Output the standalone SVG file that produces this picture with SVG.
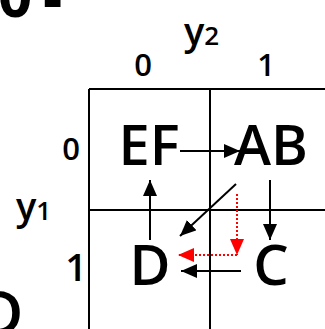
<svg xmlns="http://www.w3.org/2000/svg" width="325" height="329" viewBox="0 0 325 329">
<style>
.lbl{font-family:"Open Sans","DejaVu Sans",sans-serif;fill:#000}
.big{font-size:56px;text-anchor:middle;font-weight:600}
.mid{font-size:31px;text-anchor:middle;font-weight:600}
.grid{stroke:#000;stroke-width:2;fill:none}
.edge{stroke:#000;stroke-width:2;fill:none}
.red{stroke:#f00;stroke-width:2;stroke-dasharray:2 2;fill:none}
</style>
<defs>
<marker id="ah" markerUnits="userSpaceOnUse" markerWidth="16" markerHeight="14" refX="16" refY="7" orient="auto"><path d="M0,0 L16,7 L0,14 z" fill="#000"/></marker>
<marker id="ahr" markerUnits="userSpaceOnUse" markerWidth="16" markerHeight="14" refX="16" refY="7" orient="auto"><path d="M0,0 L16,7 L0,14 z" fill="#f00"/></marker>
</defs>
<rect width="325" height="329" fill="#fff"/>
<text class="lbl" x="-2" y="17" font-size="60" font-weight="bold">0</text>
<text class="lbl" x="43" y="20" font-size="60" font-weight="bold">-</text>
<text class="lbl" x="-22" y="335" font-size="62" font-weight="600">D</text>
<g id="grid">
<path class="grid" d="M89,89 V329 M210,89 V329 M89,89 H325 M89,210 H325"/>
</g>
<g id="axis-labels">
<text class="lbl" x="184" y="45" font-size="38" font-weight="600">y<tspan font-size="26">2</tspan></text>
<text class="lbl mid" x="143" y="76">0</text>
<text class="lbl mid" x="266" y="76">1</text>
<text class="lbl mid" x="71" y="160">0</text>
<text class="lbl" x="16" y="220" font-size="38" font-weight="600">y<tspan font-size="26">1</tspan></text>
<text class="lbl" x="76" y="281" font-size="38" font-weight="600" text-anchor="middle">1</text>
</g>
<g id="node-EF"><text class="lbl big" x="149" y="165">EF</text></g>
<g id="node-AB"><text class="lbl big" x="271" y="165">AB</text></g>
<g id="node-D"><text class="lbl big" x="150" y="285">D</text></g>
<g id="node-C"><text class="lbl big" x="271" y="285">C</text></g>
<g id="connectors">
<path class="edge" d="M180,151 H240" marker-end="url(#ah)"/>
<path class="edge" d="M150,240 V180" marker-end="url(#ah)"/>
<path class="edge" d="M270,180 V240" marker-end="url(#ah)"/>
<path class="edge" d="M236,184 L180,236" marker-end="url(#ah)"/>
<path class="edge" d="M241,271 H181" marker-end="url(#ah)"/>
<path class="red" d="M237,194 V255" marker-end="url(#ahr)"/>
<path class="red" d="M237,255 H178" marker-end="url(#ahr)"/>
</g>
</svg>
